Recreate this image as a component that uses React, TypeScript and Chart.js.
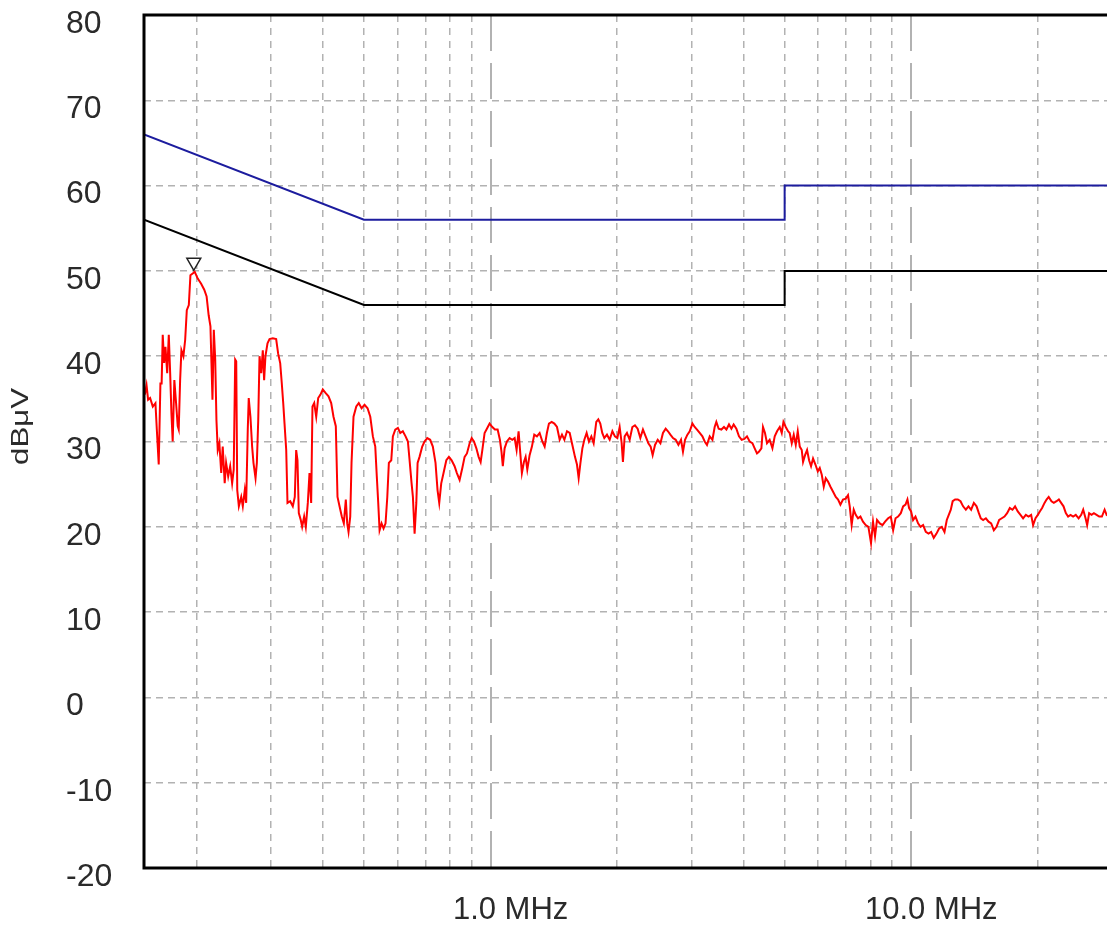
import React, { useEffect, useRef } from 'react';
import { Chart, registerables } from 'chart.js';

Chart.register(...registerables);

// ---- data (frequency in MHz, level in dBµV) ----
const FREQ_MHZ: number[] = [
  0.1507, 0.1521, 0.1534, 0.1551, 0.1574, 0.1597, 0.1609, 0.1626, 0.1641, 0.1652,
  0.1662, 0.1675, 0.1687, 0.1703, 0.1718, 0.1731, 0.1743, 0.1755, 0.1771, 0.1788,
  0.1804, 0.1814, 0.1828, 0.1841, 0.1861, 0.1879, 0.1896, 0.1917, 0.1934, 0.1958,
  0.198, 0.2013, 0.2051, 0.2086, 0.2113, 0.2137, 0.2158, 0.217, 0.2182, 0.2198,
  0.2215, 0.223, 0.2246, 0.2266, 0.2289, 0.2308, 0.2333, 0.2351, 0.2378, 0.2404,
  0.243, 0.2451, 0.2471, 0.2485, 0.2499, 0.2521, 0.2554, 0.2576, 0.2604, 0.2624,
  0.2647, 0.2661, 0.2686, 0.2711, 0.2731, 0.2762, 0.2782, 0.2803, 0.2823, 0.2849,
  0.2874, 0.2895, 0.2916, 0.2949, 0.2982, 0.3036, 0.3092, 0.3126, 0.3161, 0.3189,
  0.3214, 0.3237, 0.3267, 0.329, 0.3339, 0.3387, 0.3424, 0.345, 0.3475, 0.35,
  0.3538, 0.3565, 0.3604, 0.3637, 0.3677, 0.3711, 0.3745, 0.3772, 0.3808, 0.385,
  0.3892, 0.3941, 0.3991, 0.4051, 0.4118, 0.4179, 0.4232, 0.4286, 0.4326, 0.4374,
  0.4429, 0.4478, 0.4527, 0.4562, 0.4595, 0.4638, 0.4671, 0.4722, 0.4794, 0.486,
  0.4935, 0.5016, 0.51, 0.5176, 0.525, 0.5319, 0.5364, 0.5406, 0.5446, 0.5506,
  0.5566, 0.5627, 0.5681, 0.573, 0.5806, 0.5857, 0.5934, 0.602, 0.6099, 0.6185,
  0.6279, 0.6359, 0.6418, 0.6489, 0.6536, 0.6597, 0.6659, 0.6706, 0.6777, 0.6878,
  0.6965, 0.707, 0.7184, 0.7289, 0.7397, 0.7479, 0.7549, 0.7632, 0.7729, 0.7848,
  0.796, 0.8079, 0.8211, 0.8315,
  0.844, 0.8566, 0.8674, 0.8785, 0.8916, 0.9015, 0.9129, 0.925, 0.9366, 0.9469,
  0.9557, 0.9677, 0.9799, 0.9945, 1.0094, 1.0239, 1.0392, 1.0522, 1.0613, 1.0692,
  1.0797, 1.0934, 1.1097, 1.126, 1.1406, 1.1529, 1.1656, 1.1765, 1.1868, 1.2,
  1.2112, 1.2224, 1.238, 1.2538, 1.27, 1.2886, 1.3079, 1.3274, 1.3442, 1.3608,
  1.3762, 1.3969, 1.4178, 1.4382, 1.4595, 1.4779, 1.4975, 1.5191, 1.5417, 1.5644,
  1.5869, 1.6044, 1.6193, 1.6343, 1.6525, 1.6704, 1.6916, 1.7131, 1.7359, 1.7578,
  1.7832, 1.803, 1.8229, 1.8425, 1.8633, 1.8906, 1.9189, 1.9475, 1.9749, 2.0011,
  2.0266, 2.0489, 2.0634, 2.0828, 2.1092, 2.1406, 2.1724, 2.2036, 2.2362, 2.2697,
  2.3022, 2.3365, 2.3712, 2.4013, 2.4277, 2.4593, 2.4959, 2.5333, 2.5688, 2.6071,
  2.6402, 2.6751, 2.714, 2.7544, 2.7954, 2.8356, 2.8661, 2.8983, 2.9365, 2.9737,
  3.0181, 3.056, 3.095, 3.1408, 3.1877, 3.2281, 3.2685, 3.318, 3.3675, 3.409,
  3.4404, 3.4847, 3.5365, 3.5875, 3.6352, 3.6871, 3.736, 3.7823, 3.8386, 3.8942,
  3.952, 4.011, 4.0686, 4.1291, 4.1908, 4.2437, 4.2973, 4.3419, 4.4023, 4.4412,
  4.4901, 4.5396,
  4.6062, 4.6764, 4.7357, 4.7962, 4.8677, 4.9212, 4.9672, 5.0302, 5.0934, 5.14,
  5.1985, 5.2551, 5.3136, 5.3718, 5.431, 5.4909, 5.5302, 5.5906, 5.6531, 5.7156,
  5.7773, 5.8412, 5.9176, 5.9934, 6.0596, 6.1266, 6.1936, 6.2618, 6.3394, 6.4251,
  6.5179, 6.6142, 6.6988, 6.785, 6.8809, 6.9846, 7.073, 7.1397, 7.2153, 7.2974,
  7.3778, 7.4712, 7.57, 7.6771, 7.7919, 7.9078, 8.022, 8.1106, 8.2001, 8.29,
  8.4164, 8.542, 8.6646, 8.8094, 8.9408, 9.0544, 9.1742, 9.3017, 9.4427, 9.5626,
  9.6895, 9.7913, 9.8799, 9.989, 10.099, 10.232, 10.379, 10.517, 10.668, 10.827,
  10.988, 11.146, 11.308, 11.48, 11.644, 11.817, 11.993, 12.145, 12.278, 12.415,
  12.543, 12.711, 12.9, 13.093, 13.278, 13.479, 13.677, 13.877, 14.085, 14.295,
  14.476, 14.629, 14.82, 15.041, 15.264, 15.484, 15.713, 15.947, 16.176, 16.413,
  16.655, 16.897, 17.149, 17.401, 17.648, 17.911, 18.179, 18.44, 18.721, 19.0,
  19.272, 19.48, 19.739, 19.989, 20.209, 20.463, 20.737, 20.967, 21.214, 21.541,
  21.82, 22.145, 22.426, 22.71, 23.009, 23.3, 23.592, 23.908, 24.25, 24.606,
  24.99, 25.346, 25.625, 25.957, 26.186, 26.471, 26.824, 27.17, 27.574, 27.969,
  28.387, 28.809, 29.128, 29.65, 30.0,
];

const LEVEL_DBUV: number[] = [
  35.5, 36.6, 34.9, 35.1, 34.1, 34.5, 31.4, 27.3, 36.8, 36.8,
  42.5, 39.2, 41.1, 38.0, 42.5, 38.0, 33.3, 30.0, 37.2, 34.5,
  31.8, 31.4, 37.2, 40.7, 40.0, 41.9, 45.4, 46.0, 49.5, 49.7,
  49.9, 49.1, 48.5, 47.8, 47.0, 44.8, 43.5, 39.2, 34.9, 43.1,
  39.6, 32.5, 29.0, 29.8, 26.3, 29.4, 25.1, 27.5, 25.9, 27.1,
  25.1, 26.7, 39.6, 39.4, 24.3, 22.4, 23.5, 22.4, 24.3, 22.8,
  31.4, 35.1, 32.9, 29.4, 27.5, 25.7, 27.5, 32.5, 40.0, 38.0,
  40.7, 37.2, 40.0, 41.5, 42.0, 42.1, 42.0, 40.3, 39.2, 36.8,
  34.5, 32.1, 29.0, 22.8, 23.0, 22.4, 23.5, 29.0, 27.8, 21.6,
  20.8, 20.0, 21.2, 20.0, 22.8, 26.3, 22.8, 34.1, 34.5, 32.9,
  35.1, 35.5, 36.1, 35.7, 35.3, 34.5, 32.9, 31.8, 23.5, 22.4,
  21.2, 20.4, 23.2, 20.4, 19.4, 21.2, 27.5, 32.9, 34.1, 34.5,
  33.9, 34.3, 33.9, 32.9, 30.6, 29.4, 25.9, 22.8, 19.6, 20.4,
  19.8, 20.4, 23.5, 27.5, 27.8, 30.6, 31.4, 31.6, 31.0, 31.2,
  30.6, 30.0, 27.8, 25.1, 23.5, 19.2, 22.8, 27.5, 28.2, 29.4,
  30.0, 30.4, 30.2, 29.4, 27.5, 24.3, 22.8, 25.1, 26.3, 27.8,
  28.2, 27.8, 27.1, 26.3,
  25.5, 26.9, 28.2, 28.6, 29.8, 30.4, 30.0, 29.2, 28.2, 27.6,
  29.0, 31.0, 31.5, 32.1, 31.7, 31.4, 31.4, 30.2, 28.8, 27.1,
  29.2, 30.0, 30.4, 30.2, 30.4, 29.0, 31.2, 28.6, 26.3, 27.6,
  28.2, 26.7, 28.4, 29.4, 30.8, 30.6, 31.0, 30.0, 29.4, 31.0,
  32.1, 32.3, 32.1, 31.7, 30.2, 30.8, 30.2, 31.2, 31.0, 29.6,
  28.2, 27.3, 25.7, 27.4, 29.2, 30.2, 31.0, 30.0, 30.6, 29.8,
  32.3, 32.6, 32.1, 31.0, 30.4, 30.8, 30.2, 31.2, 30.6, 30.4,
  31.7, 29.8, 27.6, 30.6, 31.0, 30.2, 31.7, 31.9, 31.5, 30.4,
  31.4, 30.6, 29.8, 29.4, 28.4, 29.6, 30.2, 29.8, 31.0, 31.5,
  31.2, 30.8, 30.4, 30.2, 29.6, 30.2, 28.8, 30.2, 30.8, 31.2,
  32.1, 31.7, 31.4, 31.0, 30.6, 30.0, 29.6, 30.6, 30.2, 31.7,
  32.3, 31.5, 31.4, 31.7, 31.4, 32.0, 31.5, 32.0, 31.5, 30.6,
  30.2, 30.3, 30.6, 30.0, 29.8, 29.2, 28.6, 28.8, 29.2, 31.7,
  31.0, 29.8,
  30.2, 29.2, 30.6, 31.2, 31.7, 31.0, 32.3, 31.7, 31.2, 31.0,
  29.8, 30.8, 29.6, 31.2, 29.4, 29.0, 27.6, 28.4, 29.0, 27.8,
  27.1, 28.0, 27.3, 26.5, 26.9, 26.1, 24.7, 25.7, 25.3, 24.7,
  24.1, 23.5, 23.2, 22.6, 23.2, 23.3, 23.7, 22.4, 20.2, 22.0,
  21.4, 21.0, 21.2, 20.6, 20.2, 20.0, 18.1, 20.6, 18.9, 20.8,
  20.4, 20.2, 20.6, 21.0, 21.2, 19.6, 21.0, 21.2, 21.6, 22.4,
  22.6, 23.2, 22.2, 21.8, 20.8, 21.2, 20.4, 20.0, 20.2, 19.4,
  19.2, 19.4, 18.7, 19.2, 19.8, 20.0, 19.4, 20.8, 21.4, 22.0,
  23.0, 23.2, 23.2, 23.0, 22.4, 22.0, 22.4, 22.0, 22.8, 22.4,
  21.6, 21.0, 20.8, 21.0, 20.6, 20.4, 19.6, 20.0, 20.8, 21.0,
  21.2, 21.6, 22.2, 22.0, 22.4, 21.8, 21.4, 21.0, 21.4, 21.2,
  21.4, 20.2, 21.0, 21.4, 21.8, 22.2, 22.8, 23.2, 23.5, 23.0,
  22.8, 23.0, 23.2, 22.8, 22.4, 21.6, 21.2, 21.4, 21.2, 21.4,
  21.0, 21.4, 22.0, 21.0, 20.2, 21.6, 21.4, 21.6, 21.4, 21.2,
  21.2, 22.0, 21.4, 21.6, 21.5,
];

const LIMIT_FREQ_MHZ: number[] = [0.15, 0.5, 5, 5, 30];
const QP_LIMIT_DBUV: number[] = [66, 56, 56, 60, 60];
const AV_LIMIT_DBUV: number[] = [56, 46, 46, 50, 50];

const MARKER_FREQ_MHZ: number[] = [0.197];
const MARKER_LEVEL_DBUV: number[] = [51];

const X_MIN_MHZ = 0.15;
const X_MAX_MHZ = 30;
const X_GRID_MHZ: number[] = [
  0.2, 0.3, 0.4, 0.5, 0.6, 0.7, 0.8, 0.9, 1,
  2, 3, 4, 5, 6, 7, 8, 9, 10, 20,
];
const X_LABEL_VALUES: number[] = [1, 10];
const X_LABEL_TEXT: string[] = ['1.0 MHz', '10.0 MHz'];

const Y_MIN = -20;
const Y_MAX = 80;
const Y_STEP = 10;
const Y_TITLE = 'dBμV';

// ---- styles ----
const FONT = '"Liberation Sans", Arial, Helvetica, sans-serif';
const GRID_COLOR = '#b2b2b2';
const TEXT_COLOR = '#2a2a2a';

const CANVAS_W = 1140;
const CANVAS_H = 1000;
const CANVAS_TOP = -40;

const isMajor = (v: number | undefined) =>
  v !== undefined && X_LABEL_VALUES.some((m) => Math.abs(m - v) < 1e-9);

const framePlugin = {
  id: 'frameAndTitle',
  afterDraw(chart: any) {
    const { ctx, chartArea } = chart;
    const { left, top, right, bottom } = chartArea;
    ctx.save();
    ctx.strokeStyle = '#000';
    ctx.lineWidth = 3;
    ctx.strokeRect(left, top, right - left, bottom - top);
    ctx.restore();

    ctx.save();
    ctx.translate(21.5, (top + bottom) / 2 - 15);
    ctx.rotate(-Math.PI / 2);
    ctx.scale(1.3, 1);
    ctx.font = `24px ${FONT}`;
    ctx.fillStyle = TEXT_COLOR;
    ctx.textAlign = 'center';
    ctx.textBaseline = 'middle';
    ctx.fillText(Y_TITLE, 0, 0);
    ctx.restore();
  },
};

export default function App() {
  const canvasRef = useRef<HTMLCanvasElement | null>(null);

  useEffect(() => {
    const canvas = canvasRef.current;
    if (!canvas) return;

    const trace = FREQ_MHZ.map((f, i) => ({ x: f, y: LEVEL_DBUV[i] }));
    const qp = LIMIT_FREQ_MHZ.map((f, i) => ({ x: f, y: QP_LIMIT_DBUV[i] }));
    const av = LIMIT_FREQ_MHZ.map((f, i) => ({ x: f, y: AV_LIMIT_DBUV[i] }));
    const marker = MARKER_FREQ_MHZ.map((f, i) => ({ x: f, y: MARKER_LEVEL_DBUV[i] }));

    const chart = new Chart(canvas, {
      type: 'line',
      data: {
        datasets: [
          {
            label: 'QP limit',
            data: qp,
            borderColor: '#1c1c9e',
            borderWidth: 2,
            pointRadius: 0,
            tension: 0,
          },
          {
            label: 'AV limit',
            data: av,
            borderColor: '#000000',
            borderWidth: 2,
            pointRadius: 0,
            tension: 0,
          },
          {
            label: 'Trace',
            data: trace,
            borderColor: '#ff0000',
            borderWidth: 2,
            pointRadius: 0,
            tension: 0,
          },
          {
            label: 'Marker',
            type: 'scatter',
            data: marker,
            pointStyle: 'triangle',
            rotation: 180,
            pointRadius: 8,
            borderColor: '#222',
            backgroundColor: '#ffffff',
            borderWidth: 1.5,
          } as any,
        ],
      },
      options: {
        responsive: false,
        animation: false,
        events: [],
        layout: { padding: { left: 66, top: 55, right: CANVAS_W - 1112, bottom: 0 } },
        plugins: {
          legend: { display: false },
          tooltip: { enabled: false },
          title: { display: false },
        },
        scales: {
          x: {
            type: 'logarithmic',
            min: X_MIN_MHZ,
            max: X_MAX_MHZ,
            afterBuildTicks: (scale: any) => {
              scale.ticks = X_GRID_MHZ.map((v) => ({ value: v }));
            },
            afterFit: (scale: any) => {
              scale.height = CANVAS_H - 908;
            },
            ticks: {
              autoSkip: false,
              maxRotation: 0,
              minRotation: 0,
              padding: 24,
              labelOffset: 20,
              color: TEXT_COLOR,
              font: { family: FONT, size: 31 },
              callback: (value: any) => {
                const idx = X_LABEL_VALUES.findIndex((m) => Math.abs(m - Number(value)) < 1e-9);
                return idx >= 0 ? X_LABEL_TEXT[idx] : '';
              },
            },
            grid: {
              drawTicks: false,
              color: GRID_COLOR,
              lineWidth: (c: any) => (isMajor(c.tick?.value) ? 2 : 1.5),
            },
            border: {
              display: false,
              dash: (c: any) => (isMajor(c.tick?.value) ? [36, 12] : [7, 6]),
            },
          } as any,
          y: {
            type: 'linear',
            min: Y_MIN,
            max: Y_MAX,
            afterFit: (scale: any) => {
              scale.width = 144 - 66;
            },
            ticks: {
              stepSize: Y_STEP,
              crossAlign: 'far',
              labelOffset: 9,
              padding: 0,
              color: TEXT_COLOR,
              font: { family: FONT, size: 32 },
            },
            grid: {
              drawTicks: false,
              color: GRID_COLOR,
              lineWidth: 1.5,
            },
            border: { display: false, dash: [7, 5] },
          } as any,
        },
      },
      plugins: [framePlugin],
    });

    return () => chart.destroy();
  }, []);

  return (
    <div
      style={{
        position: 'fixed',
        left: 0,
        top: 0,
        width: 1107,
        height: 927,
        overflow: 'hidden',
        background: '#ffffff',
      }}
    >
      <canvas
        ref={canvasRef}
        width={CANVAS_W}
        height={CANVAS_H}
        style={{
          position: 'absolute',
          left: 0,
          top: CANVAS_TOP,
          width: CANVAS_W,
          height: CANVAS_H,
          display: 'block',
        }}
      />
    </div>
  );
}
